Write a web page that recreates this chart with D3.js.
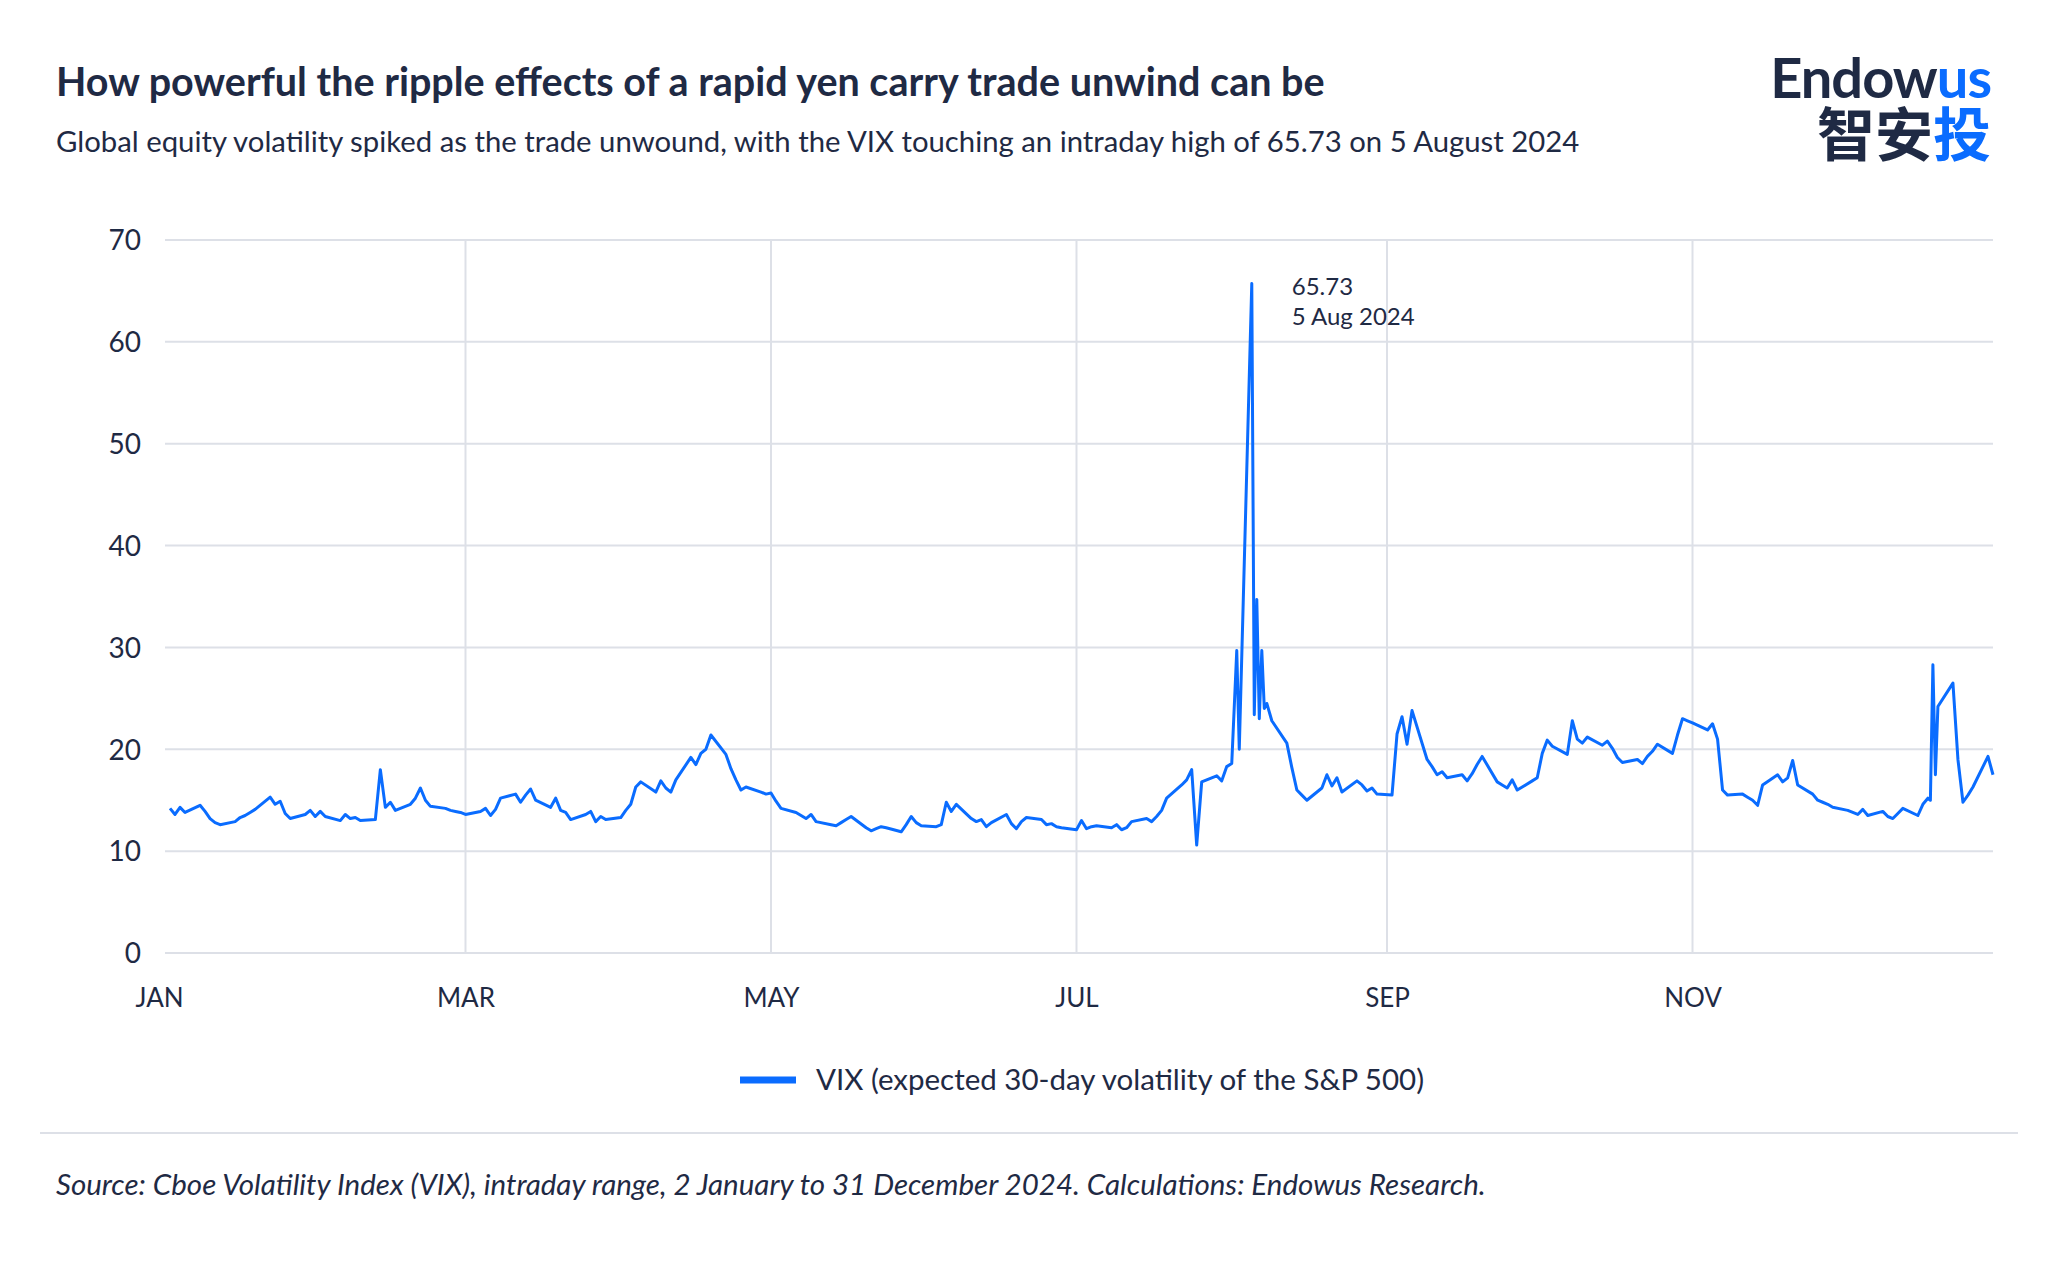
<!DOCTYPE html>
<html><head><meta charset="utf-8">
<script src="https://cdn.jsdelivr.net/npm/d3@7"></script>
<style>
body{margin:0;background:#fff;font-family:Lato,"Noto Sans",sans-serif;}
</style></head>
<body><svg id="chart" width="2048" height="1270"></svg>
<script>
// Daily values per month (one per weekday)
const jan = [14.2,13.6,14.3,13.8,14.5,13.9,13.2,12.8,12.6,12.9,13.3,13.5,13.8,14.1,15.3,14.6,14.9,13.7,13.2,13.6,14.0,13.4];
const feb = [13.9,13.4,13.0,13.6,13.2,13.3,13.0,13.1,18.0,14.3,14.8,14.0,14.6,15.2,16.2,15.0,14.4,14.2,14.0,13.9,13.8];
const mar = [13.6,13.9,14.2,13.5,14.1,15.2,15.6,14.8,15.5,16.1,15.0,14.3,15.2,14.0,13.8,13.1,13.6,13.9,12.9,13.4,13.1];
const apr = [13.3,14.0,14.6,16.3,16.8,15.8,16.9,16.2,15.8,17.0,19.2,18.5,19.6,20.0,21.4,19.5,18.1,17.0,16.0,16.3,15.8,15.6];
const may = [15.7,14.9,14.2,13.8,13.5,13.2,13.6,12.9,12.6,12.5,12.8,13.1,13.4,12.3,12.0,12.2,12.4,12.3,11.9,12.6,13.4,12.8,12.5];
const jun = [12.4,12.6,14.8,13.9,14.6,13.2,12.9,13.1,12.4,12.8,13.6,12.7,12.2,12.9,13.3,13.1,12.6,12.7,12.4,12.3];
const jul = [12.1,13.0,12.2,12.4,12.5,12.3,12.6,12.1,12.3,12.9,13.2,12.9,13.4,14.0,15.2,16.5,17.0,18.0,10.6,16.8,17.4,16.9,18.3];
const aug = [18.6,29.7,65.73,34.7,29.7,24.5,22.8,20.6,18.2,16.0,15.5,15.0,16.2,17.5,16.4,17.2,15.8,16.9,16.5,15.9,16.2,15.6];
const sep = [15.5,21.5,23.2,20.5,23.8,19.0,18.3,17.5,17.8,17.2,17.5,16.9,17.6,18.5,19.3,16.8,16.5,16.2,17.0,16.0,16.9];
const oct = [17.2,19.6,20.9,20.3,19.5,22.8,21.0,20.6,21.2,20.4,20.8,20.1,19.2,18.7,19.0,18.6,19.3,19.8,20.5,19.6,21.4,23.0,22.8];
const nov = [22.6,21.9,22.5,21.0,16.0,15.5,15.6,15.3,15.0,14.5,16.5,17.5,16.8,17.2,18.9,16.5,15.6,15.0,14.8,14.6,14.3];
const dec = [14.0,13.8,13.6,14.1,13.5,13.9,13.4,13.2,13.7,14.2,13.5,14.6,15.2,28.3,24.2,26.5,19.0,14.8,15.5,16.3,19.3,17.5];
const months = [jan,feb,mar,apr,may,jun,jul,aug,sep,oct,nov,dec];
// Intraday lows shown as extra points
const lowDates = ["2024-08-02","2024-08-05","2024-08-06","2024-08-07","2024-12-18","2024-12-19"];
const lowValues = [20.0,23.4,23.0,24.0,15.0,17.5];

const yTicks = [0,10,20,30,40,50,60,70];
const xTickLabels = ["JAN","MAR","MAY","JUL","SEP","NOV"];

// build points
let pts = [];
months.forEach((vals, m) => {
  const days = [];
  const start = m === 0 ? 2 : 1;
  for (let d = start; d <= 31; d++) {
    const dt = new Date(2024, m, d);
    if (dt.getMonth() !== m) break;
    if (dt.getDay() !== 0 && dt.getDay() !== 6) days.push(dt);
  }
  vals.forEach((v, i) => { if (days[i]) pts.push({date: days[i], v}); });
});
lowDates.forEach((s, i) => {
  const p = s.split("-").map(Number);
  pts.push({date: new Date(p[0], p[1]-1, p[2], 12), v: lowValues[i]});
});
pts.sort((a, b) => a.date - b.date);

const svg = d3.select("#chart");
const navy = "#1f2a44", blue = "#0a6cff", grid = "#dde0e7";
const L = 165, R = 1993, T = 240, B = 953;

const x = d3.scaleTime().domain([new Date(2024,0,1), new Date(2024,11,31)]).range([L, R]);
const y = d3.scaleLinear().domain([0,70]).range([B, T]);

// header
svg.append("text").attr("x",56).attr("y",96).attr("fill",navy)
  .attr("font-size",39.5).attr("font-weight",700)
  .text("How powerful the ripple effects of a rapid yen carry trade unwind can be");
svg.append("text").attr("x",56).attr("y",152).attr("fill",navy).attr("font-size",29.3)
  .text("Global equity volatility spiked as the trade unwound, with the VIX touching an intraday high of 65.73 on 5 August 2024");
const logo = svg.append("text").attr("x",1991).attr("y",98).attr("text-anchor","end")
  .attr("font-size",56).attr("font-weight",700).attr("letter-spacing",-1);
logo.append("tspan").attr("fill",navy).text("Endow");
logo.append("tspan").attr("fill",blue).text("us");
const cjk = svg.append("text").attr("x",1991).attr("y",156).attr("text-anchor","end")
  .attr("font-size",58).attr("font-weight",700).attr("font-family","'Noto Sans CJK SC'");
cjk.append("tspan").attr("fill",navy).text("智安");
cjk.append("tspan").attr("fill",blue).text("投");

// grid
svg.append("g").selectAll("line").data(yTicks).enter().append("line")
  .attr("x1",L).attr("x2",R).attr("y1",d=>y(d)).attr("y2",d=>y(d))
  .attr("stroke",grid).attr("stroke-width",2);
const monthTicks = [0,2,4,6,8,10].map(m => new Date(2024,m,1));
svg.append("g").selectAll("line").data(monthTicks.slice(1)).enter().append("line")
  .attr("x1",d=>x(d)).attr("x2",d=>x(d)).attr("y1",T).attr("y2",B)
  .attr("stroke",grid).attr("stroke-width",2);

// axes labels
const yAxis = svg.append("g").attr("transform",`translate(${L},0)`)
  .call(d3.axisLeft(y).tickValues(yTicks).tickSize(0).tickPadding(24));
yAxis.select(".domain").remove();
yAxis.selectAll("text").attr("font-size",28).attr("fill",navy).attr("font-family","Lato").attr("dy","0.35em");

const xAxis = svg.append("g").attr("transform",`translate(0,${B})`)
  .call(d3.axisBottom(x).tickValues(monthTicks).tickSize(0).tickPadding(36)
    .tickFormat((d,i)=>xTickLabels[i]));
xAxis.select(".domain").remove();
xAxis.selectAll("text").attr("font-size",26).attr("fill",navy).attr("font-family","Lato");
xAxis.select(".tick text").attr("dx",-6);

// line
const line = d3.line().x(d=>x(d.date)).y(d=>y(d.v));
svg.append("path").datum(pts).attr("d",line).attr("fill","none")
  .attr("stroke",blue).attr("stroke-width",3).attr("stroke-linejoin","round");

// annotation
const peak = pts.reduce((a,b)=>b.v>a.v?b:a);
svg.append("text").attr("x",x(peak.date)+40).attr("y",y(peak.v)+12).attr("fill",navy).attr("font-size",24).text("65.73");
svg.append("text").attr("x",x(peak.date)+40).attr("y",y(peak.v)+42).attr("fill",navy).attr("font-size",24).text("5 Aug 2024");

// legend
svg.append("line").attr("x1",740).attr("x2",796).attr("y1",1080).attr("y2",1080)
  .attr("stroke",blue).attr("stroke-width",7);
svg.append("text").attr("x",816).attr("y",1090).attr("fill",navy).attr("font-size",29.5)
  .text("VIX (expected 30-day volatility of the S&P 500)");

// footer
svg.append("line").attr("x1",40).attr("x2",2018).attr("y1",1133).attr("y2",1133)
  .attr("stroke",grid).attr("stroke-width",2);
svg.append("text").attr("x",56).attr("y",1195).attr("fill",navy).attr("font-size",29.5)
  .attr("font-style","italic")
  .text("Source: Cboe Volatility Index (VIX), intraday range, 2 January to 31 December 2024. Calculations: Endowus Research.");
</script></body></html>
